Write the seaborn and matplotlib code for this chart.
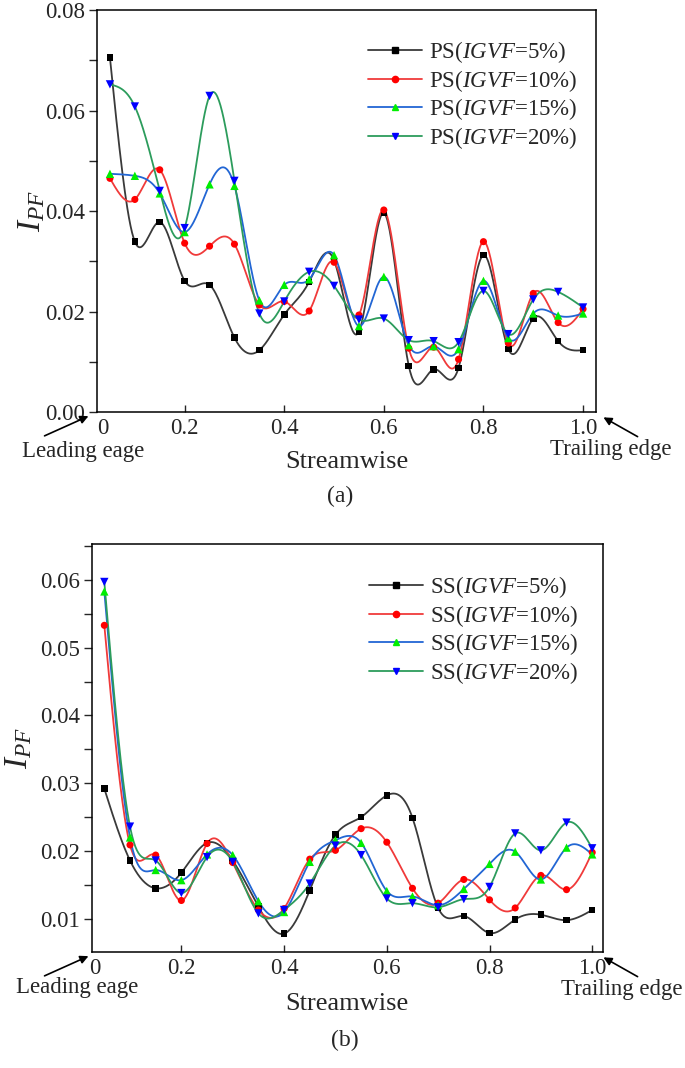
import numpy as np
import pandas as pd
import matplotlib
matplotlib.use('Agg')
import matplotlib.pyplot as plt
import seaborn as sns
from matplotlib.lines import Line2D
from matplotlib.ticker import MultipleLocator, FormatStrFormatter

# Datos (posición a lo largo del álabe)
streamwise = [0.05, 0.10, 0.15, 0.20, 0.25, 0.30, 0.35, 0.40, 0.45, 0.50,
              0.55, 0.60, 0.65, 0.70, 0.75, 0.80, 0.85, 0.90, 0.95, 1.00]

# (a) lado de presión
ps_5 = [0.0705, 0.0339, 0.0378, 0.0261, 0.0253, 0.0148, 0.0123, 0.0194, 0.0259, 0.0302,
        0.0160, 0.0396, 0.0092, 0.0085, 0.0088, 0.0312, 0.0125, 0.0186, 0.0141, 0.0123]
ps_10 = [0.0465, 0.0423, 0.0482, 0.0336, 0.0330, 0.0334, 0.0213, 0.0220, 0.0201, 0.0298,
         0.0193, 0.0402, 0.0127, 0.0129, 0.0105, 0.0339, 0.0137, 0.0236, 0.0178, 0.0205]
ps_15 = [0.0474, 0.0470, 0.0435, 0.0358, 0.0453, 0.0450, 0.0222, 0.0253, 0.0264, 0.0312,
         0.0171, 0.0269, 0.0133, 0.0131, 0.0125, 0.0261, 0.0147, 0.0196, 0.0192, 0.0196]
ps_20 = [0.0652, 0.0608, 0.0440, 0.0366, 0.0629, 0.0460, 0.0196, 0.0220, 0.0279, 0.0251,
         0.0184, 0.0186, 0.0143, 0.0141, 0.0139, 0.0241, 0.0155, 0.0224, 0.0239, 0.0208]

# (b) lado de succión
ss_5 = [0.0292, 0.0186, 0.0145, 0.0168, 0.0212, 0.0186, 0.0118, 0.0078, 0.0142, 0.0224,
        0.0250, 0.0282, 0.0249, 0.0116, 0.0104, 0.0079, 0.0099, 0.0106, 0.0098, 0.0113]
ss_10 = [0.0533, 0.0209, 0.0194, 0.0127, 0.0211, 0.0183, 0.0113, 0.0115, 0.0188, 0.0201,
         0.0233, 0.0213, 0.0145, 0.0123, 0.0158, 0.0128, 0.0116, 0.0164, 0.0143, 0.0198]
ss_15 = [0.0583, 0.0220, 0.0172, 0.0157, 0.0195, 0.0194, 0.0126, 0.0110, 0.0184, 0.0216,
         0.0212, 0.0141, 0.0133, 0.0120, 0.0144, 0.0181, 0.0199, 0.0158, 0.0205, 0.0195]
ss_20 = [0.0597, 0.0236, 0.0186, 0.0138, 0.0191, 0.0184, 0.0108, 0.0113, 0.0152, 0.0208,
         0.0194, 0.0130, 0.0123, 0.0117, 0.0129, 0.0147, 0.0226, 0.0201, 0.0242, 0.0204]

igvf = ['5%', '10%', '15%', '20%']
xtick_labels = ['0', '0.2', '0.4', '0.6', '0.8', '1.0']

line_colors = ['#3a3a3a', '#f03a3a', '#2266d4', '#2c9c5c']
marker_colors = ['#000000', '#ff0000', '#00ee00', '#0000ff']
markers = ['s', 'o', '^', 'v']
msizes = [22, 26, 36, 36]

sns.set_style('ticks')
plt.rcParams['font.family'] = ['Liberation Serif', 'DejaVu Serif']
plt.rcParams['mathtext.fontset'] = 'custom'
plt.rcParams['mathtext.rm'] = 'Liberation Serif'
plt.rcParams['mathtext.it'] = 'Liberation Serif:italic'


def spline(x, y, n=600):
    # spline cúbico natural, como la conexión "Spline" de Origin
    x = np.asarray(x, float)
    y = np.asarray(y, float)
    k = len(x)
    h = np.diff(x)
    A = np.zeros((k, k))
    r = np.zeros(k)
    A[0, 0] = A[-1, -1] = 1
    for i in range(1, k - 1):
        A[i, i - 1] = h[i - 1]
        A[i, i] = 2 * (h[i - 1] + h[i])
        A[i, i + 1] = h[i]
        r[i] = 6 * ((y[i + 1] - y[i]) / h[i] - (y[i] - y[i - 1]) / h[i - 1])
    M = np.linalg.solve(A, r)
    xs = np.linspace(x[0], x[-1], n)
    j = np.clip(np.searchsorted(x, xs) - 1, 0, k - 2)
    t0 = x[j + 1] - xs
    t1 = xs - x[j]
    hj = h[j]
    ys = (M[j] * t0**3 + M[j + 1] * t1**3) / (6 * hj) \
        + (y[j] / hj - M[j] * hj / 6) * t0 + (y[j + 1] / hj - M[j + 1] * hj / 6) * t1
    return xs, ys


fig = plt.figure(figsize=(6.85, 10.68), dpi=100)
W, H = 685.0, 1068.0


def fx(px):
    return px / W


def fy(py):
    return 1 - py / H


def panel(box, series, prefix, xlim, ylim, major, minor, fmt, zero_pos, leg_xy, ylab_x):
    left, top, right, bottom = box
    ax = fig.add_axes([fx(left), fy(bottom), fx(right) - fx(left), (bottom - top) / H])
    for i, vals in enumerate(series):
        xs, ys = spline(streamwise, vals)
        sns.lineplot(x=xs, y=ys, color=line_colors[i], lw=1.3, ax=ax, sort=False,
                     estimator=None, legend=False)
    for i, vals in enumerate(series):
        sns.scatterplot(x=streamwise, y=vals, marker=markers[i], color=marker_colors[i],
                        s=msizes[i], edgecolor='none', ax=ax, legend=False, zorder=5)
    ax.set_xlim(xlim)
    ax.set_ylim(ylim)
    ax.set_xticks([zero_pos, 0.2, 0.4, 0.6, 0.8, 1.0])
    ax.set_xticklabels(xtick_labels)
    ax.xaxis.get_major_ticks()[0].tick1line.set_visible(False)
    ax.yaxis.set_major_locator(MultipleLocator(major))
    ax.yaxis.set_minor_locator(MultipleLocator(minor))
    ax.yaxis.set_major_formatter(FormatStrFormatter(fmt))
    ax.tick_params(axis='x', direction='in', length=5, width=1, labelsize=16.5, pad=4)
    ax.tick_params(axis='y', which='both', direction='out', length=5.5, width=1,
                   labelsize=16.5, pad=3)
    for s in ax.spines.values():
        s.set_visible(True)
        s.set_linewidth(1.1)
        s.set_color('black')
    ax.set_xlabel('')
    ax.set_ylabel('$I_{PF}$', fontsize=24)
    ax.yaxis.set_label_coords(ylab_x, 0.5)

    handles = [Line2D([], [], color=line_colors[i], lw=1.3, marker=markers[i],
                      markerfacecolor=marker_colors[i], markeredgecolor=marker_colors[i],
                      markersize=4.5) for i in range(4)]
    labels = [prefix + '($\\mathit{IGVF}$=' + g + ')' for g in igvf]
    ax.legend(handles, labels, loc='upper left', bbox_to_anchor=(fx(leg_xy[0]), fy(leg_xy[1])),
              bbox_transform=fig.transFigure, frameon=False, fontsize=16.5,
              handlelength=2.35, handletextpad=0.3, labelspacing=0.12,
              borderpad=0, borderaxespad=0)
    return ax


ax1 = panel((97, 10, 596, 412), [ps_5, ps_10, ps_15, ps_20], 'PS', (0.024, 1.026),
            (0.0, 0.08), 0.02, 0.01, '%.2f', 0.036, (368, 39), -0.100)
ax2 = panel((92, 544, 603, 952), [ss_5, ss_10, ss_15, ss_20], 'SS', (0.026, 1.021),
            (0.0051, 0.0653), 0.01, 0.005, '%.2f', 0.031, (369, 574), -0.114)

arrow = dict(arrowstyle='-|>', color='black', lw=1.2, mutation_scale=12)
# (eje, texto de borde de ataque, texto de borde de salida, etiqueta x)
for (sp, xl, xt, yl, yt, ys) in [(412, 83, 611, 451, 449, 462), (952, 77, 622, 988, 989, 1004)]:
    fig.text(fx(xl), fy(yl), 'Leading eage', ha='center', va='center', fontsize=16.5)
    fig.text(fx(xt), fy(yt), 'Trailing edge', ha='center', va='center', fontsize=16.5)
    fig.text(fx(347), fy(ys), 'Streamwise', ha='center', va='center', fontsize=19)
    ax1.annotate('', xy=(fx(91), fy(sp + 3)), xytext=(fx(42), fy(sp + 25)),
                 xycoords='figure fraction', textcoords='figure fraction',
                 arrowprops=arrow, annotation_clip=False)
    ax1.annotate('', xy=(fx(601), fy(sp + 4)), xytext=(fx(640), fy(sp + 26)),
                 xycoords='figure fraction', textcoords='figure fraction',
                 arrowprops=arrow, annotation_clip=False)

fig.text(fx(340), fy(496), '(a)', ha='center', va='center', fontsize=17)
fig.text(fx(345), fy(1040), '(b)', ha='center', va='center', fontsize=17)

fig.savefig('out.png', dpi=100)
